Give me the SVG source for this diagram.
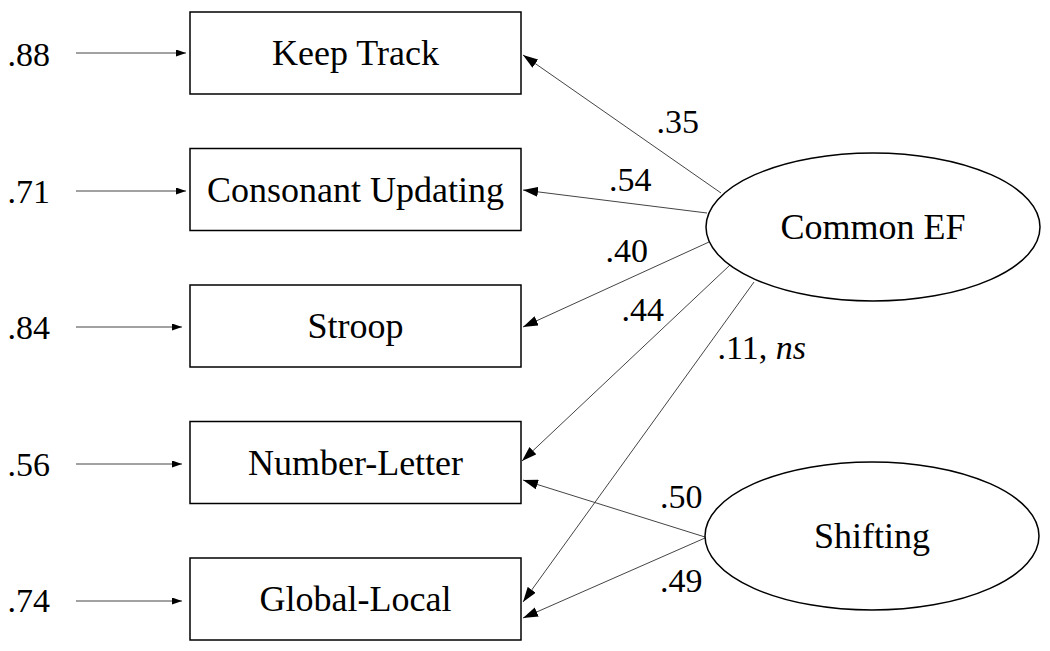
<svg xmlns="http://www.w3.org/2000/svg" width="1050" height="651" viewBox="0 0 1050 651">
<defs>
<style>
.box{fill:#fff;stroke:#000;stroke-width:1.5}
.lat{fill:#fff;stroke:#000;stroke-width:1.5}
.c{stroke:#444;stroke-width:1;fill:none}
</style>
<marker id="big" markerUnits="userSpaceOnUse" markerWidth="15" markerHeight="10" refX="15" refY="5" orient="auto"><path d="M0,0 L15,5 L0,10 z" fill="#000"/></marker>
<marker id="small" markerUnits="userSpaceOnUse" markerWidth="10" markerHeight="7" refX="10" refY="3.5" orient="auto"><path d="M0,0 L10,3.5 L0,7 z" fill="#000"/></marker>
</defs>
<rect width="1050" height="651" fill="#fff"/>
<g id="connectors">
<line class="c" x1="76" y1="53" x2="186" y2="53" marker-end="url(#small)"/>
<line class="c" x1="76" y1="191" x2="186" y2="191" marker-end="url(#small)"/>
<line class="c" x1="76" y1="327" x2="182" y2="327" marker-end="url(#small)"/>
<line class="c" x1="76" y1="464" x2="182" y2="464" marker-end="url(#small)"/>
<line class="c" x1="76" y1="601" x2="182" y2="601" marker-end="url(#small)"/>
<line class="c" x1="721" y1="193" x2="523" y2="55" marker-end="url(#big)"/>
<line class="c" x1="707" y1="213" x2="523" y2="190" marker-end="url(#big)"/>
<line class="c" x1="709" y1="242" x2="523" y2="327" marker-end="url(#big)"/>
<line class="c" x1="730" y1="265" x2="522" y2="461" marker-end="url(#big)"/>
<line class="c" x1="754" y1="282" x2="523" y2="602" marker-end="url(#big)"/>
<line class="c" x1="705" y1="537" x2="523" y2="480" marker-end="url(#big)"/>
<line class="c" x1="705" y1="538" x2="523" y2="618" marker-end="url(#big)"/>
</g>
<g id="keep-track"><rect class="box" x="190" y="12" width="331" height="82"/><text font-family="Liberation Serif" font-size="36" text-anchor="middle" x="355.5" y="65">Keep Track</text></g>
<g id="consonant-updating"><rect class="box" x="190" y="148.5" width="331" height="82"/><text font-family="Liberation Serif" font-size="36" text-anchor="middle" x="355.5" y="202">Consonant Updating</text></g>
<g id="stroop"><rect class="box" x="190" y="285" width="331" height="82"/><text font-family="Liberation Serif" font-size="36" text-anchor="middle" x="355.5" y="338">Stroop</text></g>
<g id="number-letter"><rect class="box" x="190" y="421.5" width="331" height="82"/><text font-family="Liberation Serif" font-size="36" text-anchor="middle" x="355.5" y="475">Number-Letter</text></g>
<g id="global-local"><rect class="box" x="190" y="558" width="331" height="82"/><text font-family="Liberation Serif" font-size="36" text-anchor="middle" x="355.5" y="611">Global-Local</text></g>
<g id="common-ef"><ellipse class="lat" cx="873" cy="227" rx="167" ry="74"/><text font-family="Liberation Serif" font-size="36" text-anchor="middle" x="873" y="239">Common EF</text></g>
<g id="shifting"><ellipse class="lat" cx="872" cy="536" rx="167" ry="74"/><text font-family="Liberation Serif" font-size="36" text-anchor="middle" x="872" y="548">Shifting</text></g>
<g id="labels" font-family="Liberation Serif" font-size="34">
<text x="7.5" y="65.5">.88</text>
<text x="7.5" y="203">.71</text>
<text x="7.5" y="339">.84</text>
<text x="7.5" y="476">.56</text>
<text x="7.5" y="612">.74</text>
<text x="656.5" y="133">.35</text>
<text x="609" y="190.5">.54</text>
<text x="605.5" y="261.5">.40</text>
<text x="621.5" y="320.5">.44</text>
<text x="717.5" y="359">.11, <tspan font-style="italic">ns</tspan></text>
<text x="660" y="508">.50</text>
<text x="660" y="591.5">.49</text>
</g>
</svg>
